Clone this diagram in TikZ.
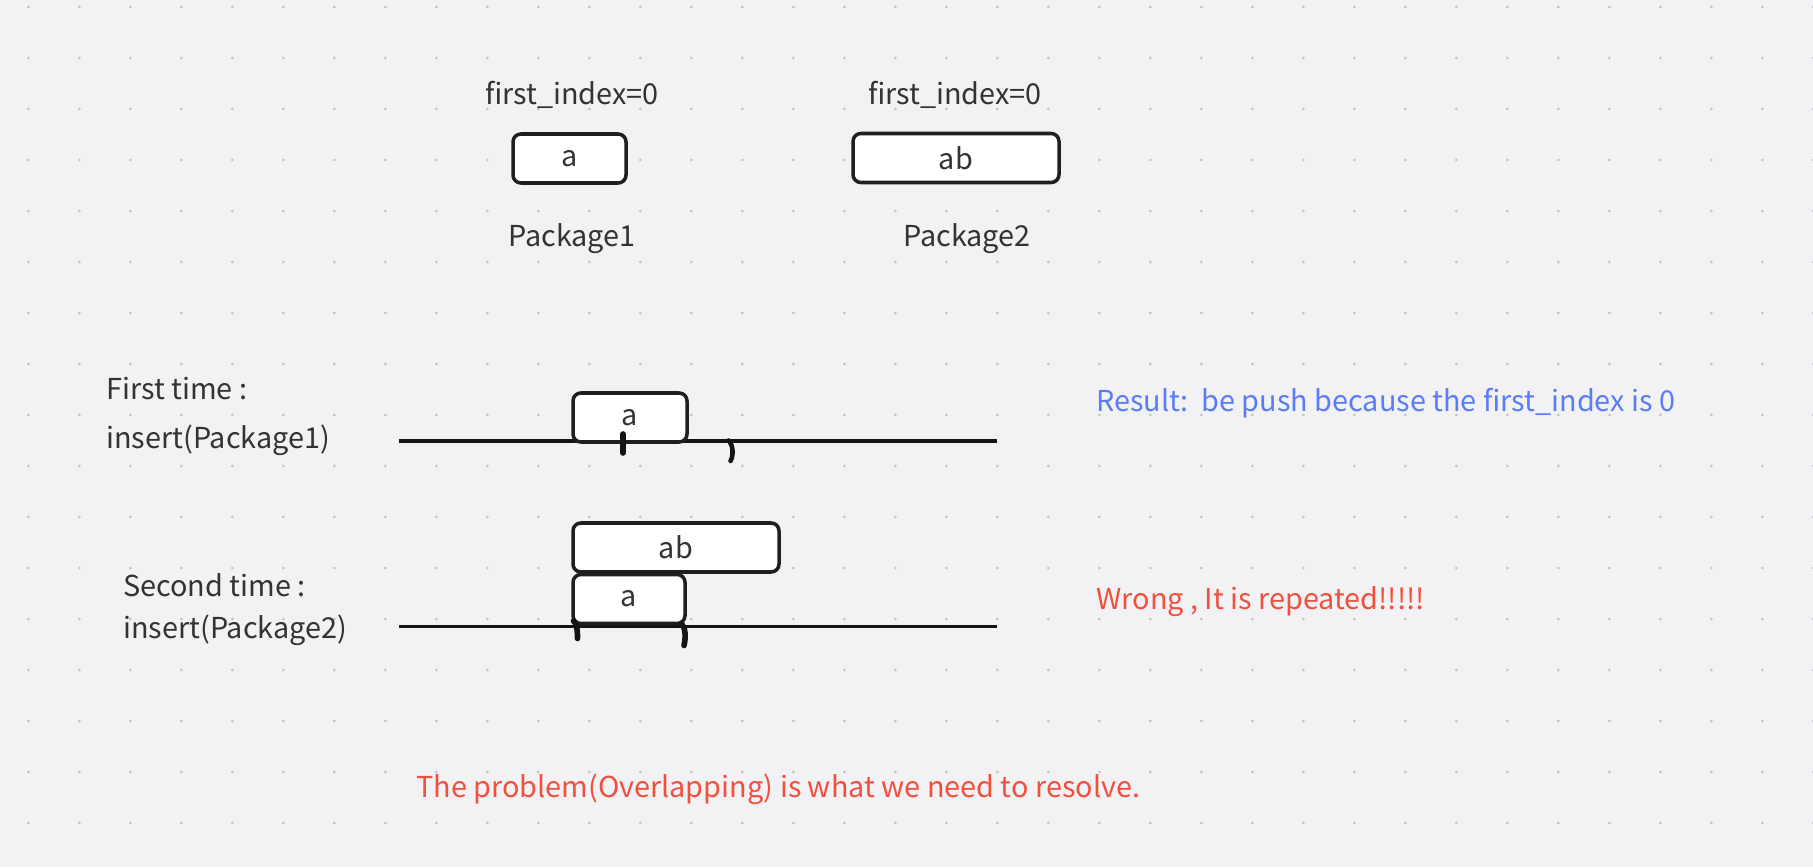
\documentclass[tikz,border=0pt]{standalone}
\usepackage{fontspec}
\setmainfont{Noto Sans CJK SC}
\definecolor{canvas}{HTML}{F2F2F4}
\definecolor{griddot}{HTML}{C2C2C6}
\definecolor{ink}{HTML}{333333}
\definecolor{noteblue}{HTML}{5A7CF5}
\definecolor{notered}{HTML}{F2503E}

\begin{document}
\begin{tikzpicture}[
  every node/.style={text=ink, font=\fontsize{16.4}{19}\selectfont, inner sep=0pt},
  pkgbox/.style={draw=black!88, fill=white, line width=2pt, rounded corners=4.5pt, minimum height=0.98cm},
  timeline/.style={black!92, line width=2pt},
  penmark/.style={black!92, line width=3.2pt, line cap=round},
]

% Background
\fill[canvas] (0,0) rectangle (36.26,17.34);
\useasboundingbox (0,0) rectangle (36.26,17.34);

% Dot grid
\foreach \i in {0,...,35}
  \foreach \j in {0,...,16}
    \fill[griddot] (0.566+1.02*\i,17.2-1.02*\j) circle (0.03);

% The two packages
\node[pkgbox, minimum width=2.26cm] (pkga) at (11.39,14.17) {a};
\node[pkgbox, minimum width=4.12cm] (pkgab) at (19.12,14.18) {ab};
\node (idxa) at (11.44,15.44) {first\_index=0};
\node (idxab) at (19.10,15.44) {first\_index=0};
\node (namea) at (11.44,12.56) {Package1};
\node (nameab) at (19.34,12.56) {Package2};

% First insert
\node[anchor=west] (firstlbl) at (2.12,9.56) {First time :};
\node[anchor=west] (firstins) at (2.12,8.54) {insert(Package1)};
\coordinate (lineas) at (7.98,8.52);
\coordinate (lineae) at (19.94,8.52);
\draw[timeline] (lineas) -- (lineae);
\node[pkgbox, minimum width=2.28cm] (firsta) at (12.6,8.99) {a};
\draw[penmark] (12.46,8.66) -- (12.46,8.28);
\draw[penmark, line width=2.6pt] (14.57,8.53) .. controls (14.67,8.44) and (14.67,8.22) .. (14.61,8.12);

% Second insert
\node[anchor=west] (secondlbl) at (2.46,5.64) {Second time :};
\node[anchor=west] (secondins) at (2.46,4.74) {insert(Package2)};
\coordinate (linebs) at (7.98,4.81);
\coordinate (linebe) at (19.94,4.81);
\draw[timeline] (linebs) -- (linebe);
\node[pkgbox, minimum width=4.12cm] (secondab) at (13.52,6.39) {ab};
\node[pkgbox, minimum width=2.24cm] (seconda) at (12.58,5.36) {a};
\draw[penmark] (11.47,4.92) .. controls (11.52,4.88) and (11.55,4.8) .. (11.55,4.57);
\draw[penmark] (13.63,4.87) .. controls (13.71,4.78) and (13.72,4.6) .. (13.68,4.43);

% Notes
\node[anchor=west, text=noteblue] (result) at (21.92,9.27) {Result:\ \ be push because the first\_index is 0};
\node[anchor=west, text=notered] (wrong) at (21.92,5.3) {Wrong , It is repeated!!!!!};
\node[anchor=west, text=notered] (problem) at (8.32,1.56) {The problem(Overlapping) is what we need to resolve.};

\end{tikzpicture}
\end{document}
